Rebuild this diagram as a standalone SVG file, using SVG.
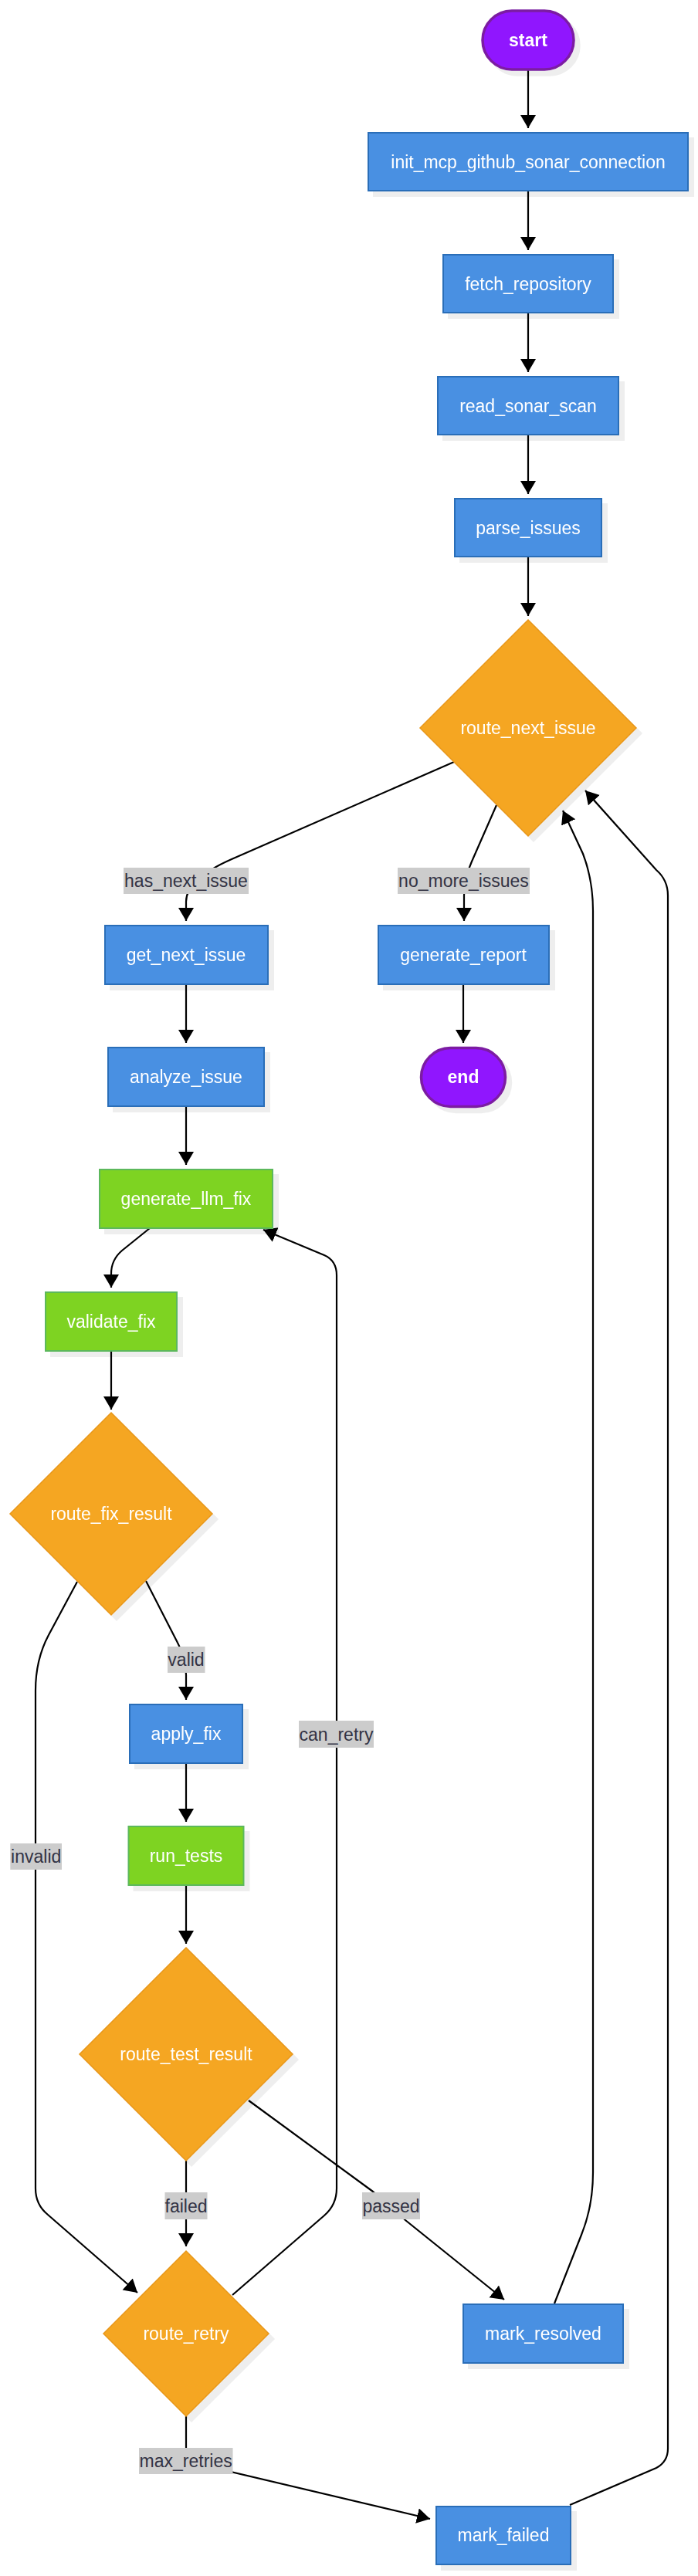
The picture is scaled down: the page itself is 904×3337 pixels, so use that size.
<svg xmlns="http://www.w3.org/2000/svg" width="904" height="3337" viewBox="0 0 904 3337">
<style>
.ntext{font-family:"Liberation Sans",Arial,sans-serif;font-size:23px;fill:#ffffff;text-anchor:middle}
.bold{font-weight:bold}
.blue{fill:#4A90E2;stroke:#2A6EB8;stroke-width:2}
.green{fill:#7ED321;stroke:#5CB85C;stroke-width:2}
.orange{fill:#F5A623;stroke:#E8971A;stroke-width:1.5}
.purple{fill:#9013FE;stroke:#7B1FA2;stroke-width:3.5}
.edge{fill:none;stroke:#000;stroke-width:2.2;marker-end:url(#arr)}
.edgen{fill:none;stroke:#000;stroke-width:2.2}
.lbg{fill:#CCCCCC}
.ltext{font-family:"Liberation Sans",Arial,sans-serif;font-size:23px;fill:#333344;text-anchor:middle}
</style>
<defs>
<marker id="arr" markerUnits="userSpaceOnUse" markerWidth="18" markerHeight="21" refX="17" refY="10" orient="auto" viewBox="0 0 18 21">
<path d="M0,0 L17,10 L0,20 z" fill="#000"/>
</marker>
<filter id="sh" x="-10%" y="-10%" width="130%" height="130%">
<feFlood flood-color="#000" flood-opacity="0.065"/>
<feComposite in2="SourceAlpha" operator="in"/>
<feOffset dx="7" dy="7"/>
<feMerge><feMergeNode/><feMergeNode in="SourceGraphic"/></feMerge>
</filter>
</defs>
<rect width="904" height="3337" fill="#ffffff"/>

<g id="connectors">
<path class="edge" d="M684,91 L684,166"/>
<path class="edge" d="M684,248 L684,324"/>
<path class="edge" d="M684,406 L684,482"/>
<path class="edge" d="M684,564 L684,640"/>
<path class="edge" d="M684,722 L684,798"/>
<path class="edge" d="M588,987 L300,1113 Q241,1139 241,1168 L241,1193"/>
<path class="edge" d="M643,1043 L611,1116 Q601,1138 601,1160 L601,1193"/>
<path class="edge" d="M241,1276 L241,1351"/>
<path class="edge" d="M600,1276 L600,1351"/>
<path class="edge" d="M241,1434 L241,1509"/>
<path class="edge" d="M194,1591 L158,1620 Q144,1632 144,1650 L144,1668"/>
<path class="edge" d="M144,1750 L144,1826"/>
<path class="edge" d="M189,2048 L230,2128 Q241,2148 241,2170 L241,2202"/>
<path class="edge" d="M100,2049 L63,2118 Q46,2150 46,2190 L46,2835 Q46,2856 62,2869 L178,2970"/>
<path class="edge" d="M241,2285 L241,2360"/>
<path class="edge" d="M241,2443 L241,2518"/>
<path class="edge" d="M241,2799 L241,2910"/>
<path class="edge" d="M322,2721 L483,2839 Q506,2857 525,2876 L653,2979"/>
<path class="edge" d="M301,2973 L420,2870 Q436,2856 436,2835 L436,1652 Q436,1633 420,1626 L341,1593"/>
<path class="edge" d="M718,2984 L753,2895 Q768,2858 768,2814 L768,1180 Q768,1140 755,1106 L729,1050"/>
<path class="edge" d="M738,3245 L850,3197 Q865,3189 865,3172 L865,1160 Q865,1140 850,1127 L758,1024"/>
<path class="edge" d="M241,3130 L241,3180 Q241,3188 252,3191 L557,3263"/>

<g id="label-has_next_issue"><rect class="lbg" x="160" y="1124" width="162" height="34"/><text class="ltext" x="241" y="1149">has_next_issue</text></g>
<g id="label-no_more_issues"><rect class="lbg" x="515" y="1124" width="171" height="34"/><text class="ltext" x="600.5" y="1149">no_more_issues</text></g>
<g id="label-valid"><rect class="lbg" x="217" y="2133" width="48.5" height="34"/><text class="ltext" x="241" y="2158">valid</text></g>
<g id="label-invalid"><rect class="lbg" x="13.3" y="2388" width="66.7" height="34"/><text class="ltext" x="46.7" y="2413">invalid</text></g>
<g id="label-can_retry"><rect class="lbg" x="387" y="2229" width="97" height="35"/><text class="ltext" x="435.5" y="2254.5">can_retry</text></g>
<g id="label-failed"><rect class="lbg" x="213.5" y="2840" width="55" height="35"/><text class="ltext" x="241" y="2865.5">failed</text></g>
<g id="label-passed"><rect class="lbg" x="469" y="2840" width="75" height="35"/><text class="ltext" x="506.5" y="2865.5">passed</text></g>
<g id="label-max_retries"><rect class="lbg" x="180" y="3171" width="121.5" height="34"/><text class="ltext" x="240.7" y="3196">max_retries</text></g>
</g>

<g id="node-start" filter="url(#sh)"><rect class="purple" x="625" y="14" width="118" height="76" rx="38" ry="38"/><text class="ntext bold" x="684" y="60">start</text></g>
<g id="node-init_mcp_github_sonar_connection" filter="url(#sh)"><rect class="blue" x="477" y="172" width="414" height="75"/><text class="ntext" x="684" y="218">init_mcp_github_sonar_connection</text></g>
<g id="node-fetch_repository" filter="url(#sh)"><rect class="blue" x="574" y="330" width="220" height="75"/><text class="ntext" x="684" y="376">fetch_repository</text></g>
<g id="node-read_sonar_scan" filter="url(#sh)"><rect class="blue" x="567" y="488" width="234" height="75"/><text class="ntext" x="684" y="534">read_sonar_scan</text></g>
<g id="node-parse_issues" filter="url(#sh)"><rect class="blue" x="589" y="646" width="190" height="75"/><text class="ntext" x="684" y="692">parse_issues</text></g>
<g id="node-route_next_issue" filter="url(#sh)"><polygon class="orange" points="684,803 824,943 684,1083 544,943"/><text class="ntext" x="684" y="951">route_next_issue</text></g>
<g id="node-get_next_issue" filter="url(#sh)"><rect class="blue" x="136" y="1199" width="211" height="76"/><text class="ntext" x="241" y="1245">get_next_issue</text></g>
<g id="node-generate_report" filter="url(#sh)"><rect class="blue" x="490" y="1199" width="221" height="76"/><text class="ntext" x="600" y="1245">generate_report</text></g>
<g id="node-end" filter="url(#sh)"><rect class="purple" x="545.5" y="1357.5" width="109" height="76" rx="38" ry="38"/><text class="ntext bold" x="600" y="1403">end</text></g>
<g id="node-analyze_issue" filter="url(#sh)"><rect class="blue" x="140" y="1357" width="202" height="76"/><text class="ntext" x="241" y="1403">analyze_issue</text></g>
<g id="node-generate_llm_fix" filter="url(#sh)"><rect class="green" x="129" y="1515" width="224" height="76"/><text class="ntext" x="241" y="1561">generate_llm_fix</text></g>
<g id="node-validate_fix" filter="url(#sh)"><rect class="green" x="59" y="1674" width="170" height="76"/><text class="ntext" x="144" y="1720">validate_fix</text></g>
<g id="node-route_fix_result" filter="url(#sh)"><polygon class="orange" points="144,1830 275,1961 144,2092 13,1961"/><text class="ntext" x="144" y="1969">route_fix_result</text></g>
<g id="node-apply_fix" filter="url(#sh)"><rect class="blue" x="168" y="2208" width="146" height="76"/><text class="ntext" x="241" y="2254">apply_fix</text></g>
<g id="node-run_tests" filter="url(#sh)"><rect class="green" x="166.5" y="2366" width="149" height="76"/><text class="ntext" x="241" y="2412">run_tests</text></g>
<g id="node-route_test_result" filter="url(#sh)"><polygon class="orange" points="241,2523 379,2661 241,2799 103,2661"/><text class="ntext" x="241" y="2669">route_test_result</text></g>
<g id="node-route_retry" filter="url(#sh)"><polygon class="orange" points="241,2916 348,3023 241,3130 134,3023"/><text class="ntext" x="241" y="3031">route_retry</text></g>
<g id="node-mark_resolved" filter="url(#sh)"><rect class="blue" x="600" y="2985" width="207" height="76"/><text class="ntext" x="703.5" y="3031">mark_resolved</text></g>
<g id="node-mark_failed" filter="url(#sh)"><rect class="blue" x="565" y="3247" width="174" height="75"/><text class="ntext" x="652" y="3292">mark_failed</text></g>
</svg>
